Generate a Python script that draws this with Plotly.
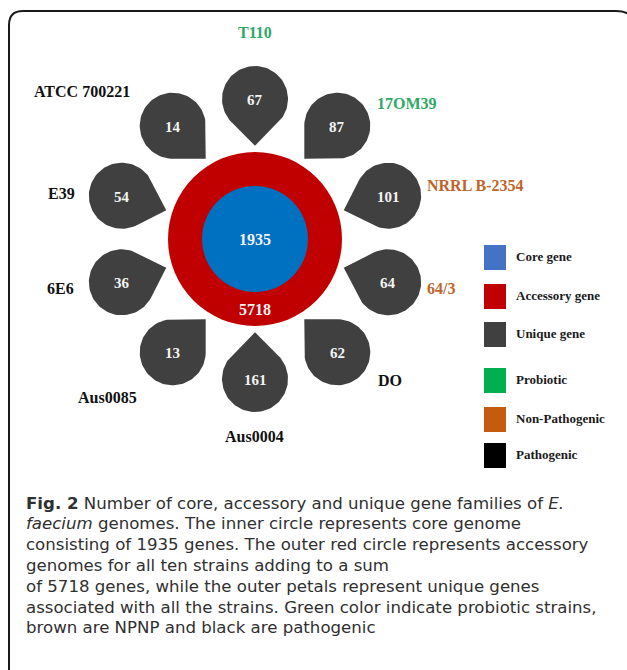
import math
import plotly.graph_objects as go

# ---------------- data ----------------
strains = ["T110", "17OM39", "NRRL B-2354", "64/3", "DO",
           "Aus0004", "Aus0085", "6E6", "E39", "ATCC 700221"]
unique_genes = [67, 87, 101, 64, 62, 161, 13, 36, 54, 14]
strain_types = ["Probiotic", "Probiotic", "Non-Pathogenic", "Non-Pathogenic", "Pathogenic",
                "Pathogenic", "Pathogenic", "Pathogenic", "Pathogenic", "Pathogenic"]
core_genes = 1935
accessory_genes = 5718
legend_items = ["Core gene", "Accessory gene", "Unique gene",
                "Probiotic", "Non-Pathogenic", "Pathogenic"]
caption_lines = [
    "<b>Fig. 2</b> Number of core, accessory and unique gene families of <i>E.</i>",
    "<i>faecium</i> genomes. The inner circle represents core genome",
    "consisting of 1935 genes. The outer red circle represents accessory",
    "genomes for all ten strains adding to a sum",
    "of 5718 genes, while the outer petals represent unique genes",
    "associated with all the strains. Green color indicate probiotic strains,",
    "brown are NPNP and black are pathogenic",
]

# ---------------- styles / layout constants ----------------
W, H = 627, 670
CX, CY = 255, 239            # centre of the flower (pixel units)
R_ACC, R_CORE = 87, 53
PETAL_D, PETAL_R = 140, 33
SERIF = "Liberation Serif, Times New Roman, serif"
SANS = "DejaVu Sans, Open Sans, sans-serif"
CORE_COL, ACC_COL, PETAL_COL = "#0070c0", "#c00000", "#404040"
LEGEND_COLORS = ["#4472c4", "#c00000", "#404040", "#00b050", "#c55a11", "#000000"]
TYPE_TEXT_COL = {"Probiotic": "#2ea866", "Non-Pathogenic": "#c0652a", "Pathogenic": "#111111"}
# strain-label offsets from the centre (pixels, y downward)
LABEL_OFF = [(0, -207), (152, -136), (220, -54), (186, 49), (135, 141),
             (-1, 197), (-148, 158), (-195, 49), (-194, -46), (-173, -148)]
LEGEND_Y = [257.5, 296.5, 334.5, 380.5, 419.5, 455.5]
LEG_X0, LEG_SW, LEG_SH, LEG_TX = 484, 22, 25, 514
CAP_X, CAP_Y0, CAP_DY = 24, 503, 20.8

fig = go.Figure()


def teardrop(cx, cy, r, corner_deg, n=80):
    xs, ys = [], []
    d = math.sqrt(2) * r
    xs.append(cx + d * math.cos(math.radians(corner_deg)))
    ys.append(cy - d * math.sin(math.radians(corner_deg)))
    for k in range(n + 1):
        t = math.radians(corner_deg + 45 + 270 * k / n)
        xs.append(cx + r * math.cos(t))
        ys.append(cy - r * math.sin(t))
    xs.append(xs[0])
    ys.append(ys[0])
    return xs, ys


annotations = []
for i, (name, val, typ) in enumerate(zip(strains, unique_genes, strain_types)):
    a = 90 - 36 * i
    pcx = CX + PETAL_D * math.cos(math.radians(a))
    pcy = CY - PETAL_D * math.sin(math.radians(a))
    cd = (a + 180) % 360
    near = round(cd / 45) * 45
    if abs(cd - near) <= 10:
        cd = near
    xs, ys = teardrop(pcx, pcy, PETAL_R, cd)
    fig.add_trace(go.Scatter(x=xs, y=ys, mode="lines", fill="toself",
                             fillcolor=PETAL_COL, line=dict(width=0),
                             hoverinfo="skip", showlegend=False))
    annotations.append(dict(x=pcx, y=pcy + 1, text="<b>%d</b>" % val, showarrow=False,
                            font=dict(family=SERIF, size=15, color="#f4f4f4"),
                            xanchor="center", yanchor="middle"))
    dx, dy = LABEL_OFF[i]
    annotations.append(dict(x=CX + dx, y=CY + dy, text="<b>%s</b>" % name, showarrow=False,
                            font=dict(family=SERIF, size=16, color=TYPE_TEXT_COL[typ]),
                            xanchor="center", yanchor="middle"))

shapes = [
    dict(type="circle", x0=CX - R_ACC, x1=CX + R_ACC, y0=CY - R_ACC, y1=CY + R_ACC,
         fillcolor=ACC_COL, line=dict(width=0), layer="below"),
    dict(type="circle", x0=CX - R_CORE, x1=CX + R_CORE, y0=CY - R_CORE, y1=CY + R_CORE,
         fillcolor=CORE_COL, line=dict(width=0), layer="below"),
]
annotations.append(dict(x=CX, y=CY, text="<b>%d</b>" % core_genes, showarrow=False,
                        font=dict(family=SERIF, size=16, color="#f4f4f4")))
annotations.append(dict(x=CX, y=CY + (R_ACC + R_CORE) / 2, text="<b>%d</b>" % accessory_genes,
                        showarrow=False, font=dict(family=SERIF, size=16, color="#f4f4f4")))

# legend
for name, col, ly in zip(legend_items, LEGEND_COLORS, LEGEND_Y):
    shapes.append(dict(type="rect", x0=LEG_X0, x1=LEG_X0 + LEG_SW,
                       y0=ly - LEG_SH / 2, y1=ly + LEG_SH / 2,
                       fillcolor=col, line=dict(width=0)))
    annotations.append(dict(x=LEG_TX, y=ly - 1, text="<b>%s</b>" % name, showarrow=False,
                            xanchor="left", yanchor="middle",
                            font=dict(family=SERIF, size=13, color="#1a1a1a")))

# caption
for k, line in enumerate(caption_lines):
    annotations.append(dict(x=CAP_X, y=CAP_Y0 + k * CAP_DY, text=line, showarrow=False,
                            xanchor="left", yanchor="middle",
                            font=dict(family=SANS, size=16.6, color="#303030")))

# frame
L, T, Rr, B, r1, r2 = 9, 11, 636, 720, 14, 20
frame = (f"M {L},{B} L {L},{T + r1} Q {L},{T} {L + r1},{T} "
         f"L {Rr - r2},{T} Q {Rr},{T} {Rr},{T + r2} L {Rr},{B}")
shapes.append(dict(type="path", path=frame, line=dict(color="#1a1a1a", width=2)))

fig.update_layout(
    width=W, height=H, autosize=False,
    margin=dict(l=0, r=0, t=0, b=0),
    paper_bgcolor="white", plot_bgcolor="white",
    xaxis=dict(range=[0, W], visible=False, fixedrange=True),
    yaxis=dict(range=[H, 0], visible=False, fixedrange=True),
    shapes=shapes, annotations=annotations, showlegend=False,
)

fig.write_html("out.html", config={"displayModeBar": False},
               post_script="document.body.style.margin='0px';document.body.style.overflow='hidden';")
